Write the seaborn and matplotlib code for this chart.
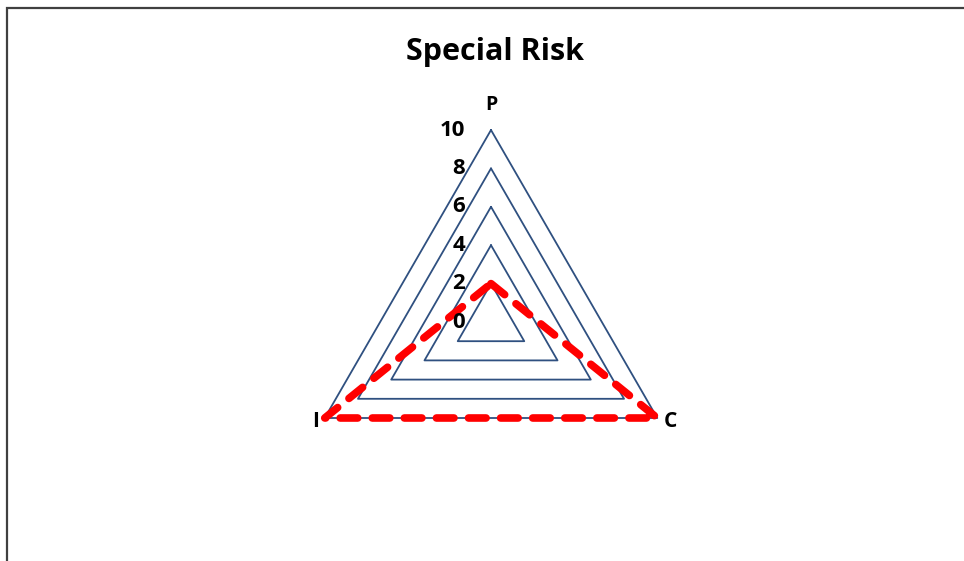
import numpy as np
import pandas as pd
import seaborn as sns
import matplotlib.pyplot as plt
from matplotlib.patches import Rectangle

categories = ['P', 'C', 'I']
values = [2, 10, 10]
grid_levels = [2, 4, 6, 8, 10]
tick_labels = ['0', '2', '4', '6', '8', '10']

sns.set_theme(style='white')
plt.rcParams['font.family'] = ['Open Sans', 'DejaVu Sans']
plt.rcParams['text.color'] = 'black'

W, H = 964, 561
cx, cy, unit = 491, 322, 19.2  # centre in px, px per value unit

fig = plt.figure(figsize=(W / 100, H / 100), dpi=100)
ax = fig.add_axes([0, 0, 1, 1])
ax.set_xlim(-cx / unit, (W - cx) / unit)
ax.set_ylim(-(H - cy) / unit, cy / unit)
ax.axis('off')

# angles: P on top, then clockwise
angles = np.deg2rad([90, -30, 210])

def polygon(rs):
    r = np.append(rs, rs[0])
    a = np.append(angles, angles[0])
    return pd.DataFrame({'x': r * np.cos(a), 'y': r * np.sin(a)})

grid_color = '#2F5080'
for lev in grid_levels:
    df = polygon(np.full(3, lev))
    sns.lineplot(data=df, x='x', y='y', sort=False, estimator=None,
                 color=grid_color, lw=1.3, ax=ax)

df = polygon(np.array(values, dtype=float))
line = ax.plot(df['x'], df['y'], color='#FF0000', lw=5.5,
               dashes=(2.3, 1.9))[0]
line.set_dash_capstyle('round')
line.set_solid_joinstyle('round')

# radial tick labels along P axis
for i, lab in enumerate(tick_labels):
    ax.text(-1.35, i * 2, lab, ha='right', va='center', fontsize=16,
            fontweight='bold', color='black')

# category labels
ax.text(0, 11.3, 'P', ha='center', va='center', fontsize=14, fontweight='bold')
ax.text(10 * np.cos(angles[1]) + 0.35, 10 * np.sin(angles[1]) - 0.2, 'C',
        ha='left', va='center', fontsize=15, fontweight='bold')
ax.text(10 * np.cos(angles[2]) - 0.3, 10 * np.sin(angles[2]) - 0.2, 'I',
        ha='right', va='center', fontsize=15, fontweight='bold')

fig.text(495 / W, 1 - 52 / H, 'Special Risk', ha='center', va='center',
         fontsize=22, fontweight='bold')

# chart-area border (left and top visible)
fig.add_artist(Rectangle((7 / W, -0.1), 1.2, 1 - 8 / H + 0.1,
                         transform=fig.transFigure, fill=False,
                         edgecolor='#404040', lw=1.6, clip_on=False))

fig.savefig('out.png', dpi=100)
